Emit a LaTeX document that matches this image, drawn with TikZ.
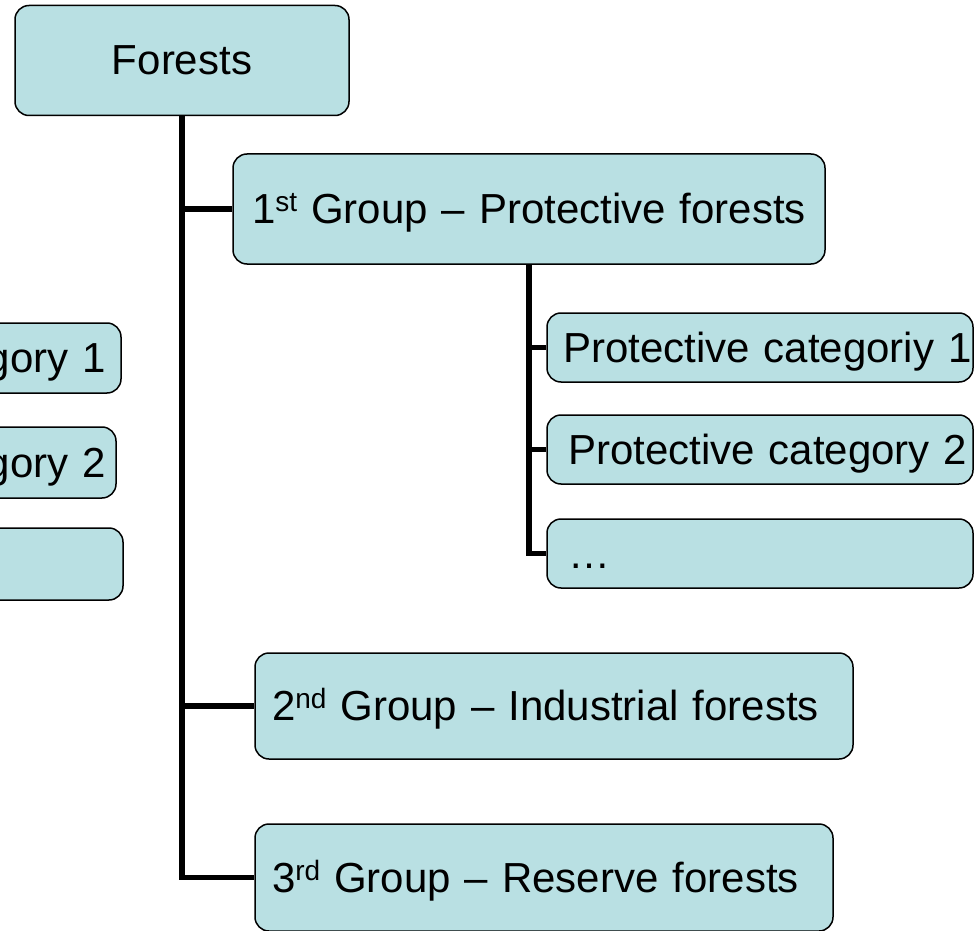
\documentclass[tikz,border=0pt]{standalone}
\usepackage{fontspec}
\setmainfont{Liberation Sans}
\usetikzlibrary{positioning}
\tikzset{>=latex}
\definecolor{boxfill}{RGB}{185,224,227}
\newcommand\ord[1]{\raisebox{12pt}{\fontsize{28}{28}\selectfont #1}}
\tikzset{
  box/.style={draw=black, line width=1.5pt, fill=boxfill, rounded corners=14pt,
    inner xsep=17pt, inner ysep=0pt, text height=29pt, text depth=0pt,
    font=\fontsize{42}{48}\selectfont},
  catbox/.style={box, text width=416, align=left, inner xsep=5pt, minimum height=69},
  trunk/.style={line width=5.5pt, black},
}

\begin{document}
\begin{tikzpicture}[x=1pt,y=1pt]
      \useasboundingbox (0,0) rectangle (978,-931);
      \clip (0,0) rectangle (978,-931);
      \def\hbig{110}  % height of group boxes
      % top
      \node[box, minimum width=334, minimum height=\hbig] (forests) at (182,-60.5) {Forests};
      % groups
      \node[box, text width=558, align=left, inner xsep=17pt, minimum height=\hbig] (grp1) at (529,-209)
        {\hspace*{2pt}1\ord{st} Group -- Protective forests};
      \node[box, text width=564, align=left, minimum height=106] (grp2) at (554,-706)
        {2\ord{nd} Group -- Industrial forests};
      \node[box, text width=544, align=left, minimum height=107] (grp3) at (544,-877.5)
        {3\ord{rd} Group -- Reserve forests};
      % categories of the 1st group
      \node[catbox] (cat1) at (760,-347.5) {\hspace*{11pt}\mbox{Protective categoriy 1}};
      \node[catbox] (cat2) at (760,-449.5) {\hspace*{16pt}\mbox{Protective category 2}};
      \node[catbox] (cat3) at (760,-553.5) {\hspace*{16pt}\dots};
      % boxes cut by the left edge
      \node[box, text width=370, align=right, inner xsep=15pt, minimum height=70] (left1) at (-79,-358) {gory 1};
      \node[box, text width=370, align=right, inner xsep=10pt, minimum height=71] (left2) at (-79,-462.5) {gory 2};
      \node[box, text width=370, align=right, minimum height=72] (left3) at (-79,-564) {};
      %
      \draw[trunk] (forests.south) |- (grp3.west);
      \draw[trunk] (forests.south |- grp1.west) -- (grp1.west);
      \draw[trunk] (forests.south |- grp2.west) -- (grp2.west);
      \draw[trunk] (grp1.south) |- (cat3.west);
      \draw[trunk] (grp1.south |- cat1.west) -- (cat1.west);
      \draw[trunk] (grp1.south |- cat2.west) -- (cat2.west);
    \end{tikzpicture}
\end{document}
